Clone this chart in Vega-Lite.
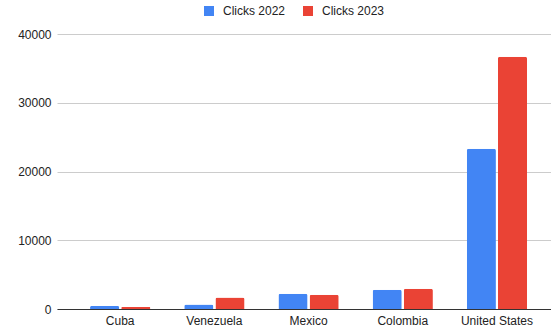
{
  "$schema": "https://vega.github.io/schema/vega-lite/v6.json",
  "width": 494,
  "height": 275,
  "autosize": {"type": "none"},
  "padding": {"left": 57, "top": 34, "right": 0, "bottom": 19},
  "background": "white",
  "config": {
    "view": {"stroke": null},
    "font": "Liberation Sans"
  },
  "data": {
    "values": [
      {"country": "Cuba", "series": "Clicks 2022", "clicks": 440},
      {"country": "Cuba", "series": "Clicks 2023", "clicks": 290},
      {"country": "Venezuela", "series": "Clicks 2022", "clicks": 670},
      {"country": "Venezuela", "series": "Clicks 2023", "clicks": 1690},
      {"country": "Mexico", "series": "Clicks 2022", "clicks": 2230},
      {"country": "Mexico", "series": "Clicks 2023", "clicks": 2080},
      {"country": "Colombia", "series": "Clicks 2022", "clicks": 2800},
      {"country": "Colombia", "series": "Clicks 2023", "clicks": 2950},
      {"country": "United States", "series": "Clicks 2022", "clicks": 23300},
      {"country": "United States", "series": "Clicks 2023", "clicks": 36700}
    ]
  },
  "mark": {"type": "bar", "cornerRadiusEnd": 2},
  "encoding": {
    "x": {
      "field": "country",
      "type": "nominal",
      "sort": null,
      "scale": {"paddingInner": 0.36, "paddingOuter": 0.3026, "align": 0.58},
      "axis": {
        "title": null,
        "labelAngle": 0,
        "ticks": false,
        "domain": true,
        "domainColor": "#333333",
        "domainWidth": 1,
        "labelFontSize": 12,
        "labelColor": "#222222",
        "labelPadding": 6,
        "grid": false
      }
    },
    "xOffset": {
      "field": "series",
      "type": "nominal",
      "scale": {"paddingInner": 0.065, "paddingOuter": 0}
    },
    "y": {
      "field": "clicks",
      "type": "quantitative",
      "scale": {"domain": [0, 40000], "nice": false},
      "axis": {
        "title": null,
        "values": [0, 10000, 20000, 30000, 40000],
        "format": "d",
        "domain": false,
        "ticks": false,
        "gridColor": "#cccccc",
        "labelFontSize": 12,
        "labelColor": "#222222",
        "labelPadding": 6
      }
    },
    "color": {
      "field": "series",
      "type": "nominal",
      "scale": {"domain": ["Clicks 2022", "Clicks 2023"], "range": ["#4285F4", "#EA4335"]},
      "legend": {
        "title": null,
        "orient": "none",
        "legendX": 146,
        "legendY": -29,
        "direction": "horizontal",
        "symbolType": "square",
        "symbolSize": 100,
        "symbolStrokeWidth": 0,
        "labelFontSize": 12,
        "labelColor": "#222222",
        "labelOffset": 8,
        "columnPadding": 16,
        "padding": 0
      }
    }
  }
}
